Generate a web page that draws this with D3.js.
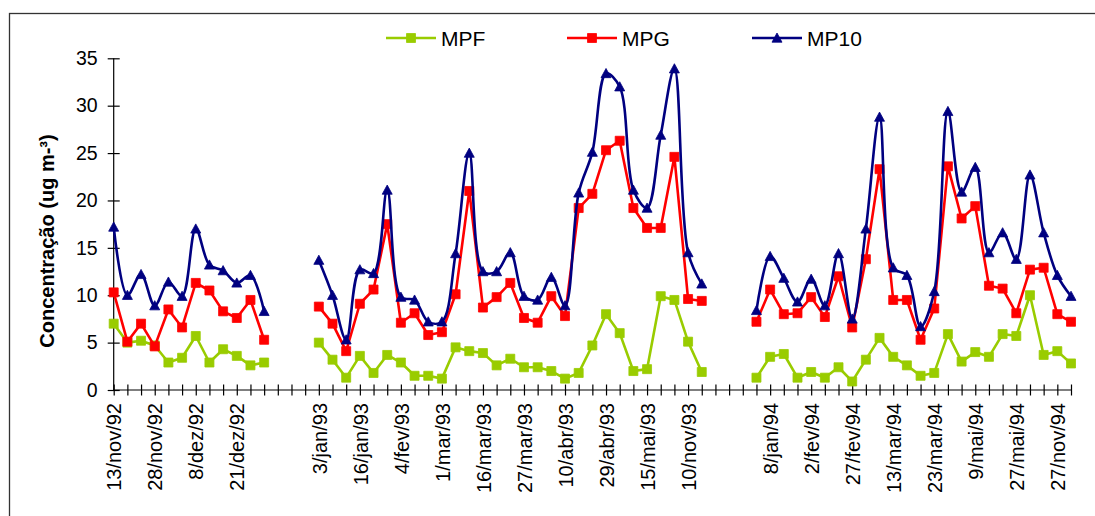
<!DOCTYPE html>
<html>
<head>
<meta charset="utf-8">
<script src="https://cdn.jsdelivr.net/npm/d3@7"></script>
<style>
  html, body { margin: 0; padding: 0; background: #fff; }
  svg { display: block; }
  text { font-family: "Liberation Sans", Arial, sans-serif; fill: #000; }
</style>
</head>
<body>
<svg id="chart" width="1095" height="516"></svg>
<script>
// ---- data (71 sampling days; null = gap) ----
const categories = d3.range(71);
const tickLabels = [
  "13/nov/92", "28/nov/92", "8/dez/92", "21/dez/92", "", "3/jan/93",
  "16/jan/93", "4/fev/93", "1/mar/93", "16/mar/93", "27/mar/93", "10/abr/93",
  "29/abr/93", "15/mai/93", "10/nov/93", "", "8/jan/94", "2/fev/94",
  "27/fev/94", "13/mar/94", "23/mar/94", "9/mai/94", "27/mai/94", "27/nov/94"
];
const yTicks = [0, 5, 10, 15, 20, 25, 30, 35];
const seriesNames = ["MPF", "MPG", "MP10"];

const mpf = [
  7.0, 5.0, 5.2, 4.7, 2.9, 3.4, 5.7, 2.9, 4.3, 3.6, 2.6, 2.9,
  null, null, null,
  5.0, 3.2, 1.3, 3.6, 1.8, 3.7, 2.9, 1.5, 1.5, 1.2, 4.5, 4.1, 3.9, 2.6, 3.3,
  2.4, 2.4, 2.0, 1.2, 1.8, 4.7, 8.0, 6.0, 2.0, 2.2, 9.9, 9.5, 5.1, 1.9,
  null, null, null,
  1.3, 3.5, 3.8, 1.3, 1.9, 1.3, 2.4, 0.9, 3.2, 5.5, 3.5, 2.6, 1.5, 1.8,
  5.9, 3.0, 4.0, 3.5, 5.9, 5.7, 10.0, 3.7, 4.1, 2.8
];
const mpg = [
  10.3, 5.1, 7.0, 4.6, 8.5, 6.6, 11.3, 10.5, 8.3, 7.6, 9.5, 5.3,
  null, null, null,
  8.8, 7.0, 4.1, 9.1, 10.6, 17.5, 7.1, 8.1, 5.8, 6.1, 10.1, 21.0, 8.7, 9.8, 11.3,
  7.6, 7.1, 9.9, 7.8, 19.2, 20.7, 25.3, 26.3, 19.2, 17.1, 17.1, 24.6, 9.6, 9.4,
  null, null, null,
  7.2, 10.6, 8.0, 8.1, 9.8, 7.7, 12.0, 6.6, 13.8, 23.3, 9.5, 9.5, 5.3, 8.6,
  23.6, 18.1, 19.4, 11.0, 10.7, 8.1, 12.7, 12.9, 8.0, 7.2
];
const mp10 = [
  17.2, 10.0, 12.2, 8.9, 11.4, 9.9, 17.0, 13.2, 12.6, 11.3, 12.1, 8.3,
  null, null, null,
  13.7, 10.0, 5.3, 12.7, 12.3, 21.1, 9.8, 9.5, 7.2, 7.2, 14.4, 25.0, 12.5, 12.5, 14.5,
  9.9, 9.5, 11.9, 8.9, 20.8, 25.1, 33.4, 32.0, 21.1, 19.2, 26.9, 33.9, 14.5, 11.2,
  null, null, null,
  8.4, 14.1, 11.8, 9.3, 11.7, 8.9, 14.4, 7.5, 17.0, 28.8, 12.9, 12.1, 6.7, 10.4,
  29.4, 20.9, 23.5, 14.5, 16.6, 13.8, 22.7, 16.6, 12.1, 9.9
];

// ---- chart ----
const svg = d3.select("#chart");

// outer frame
svg.append("rect").attr("x", 9.5).attr("y", 13.5).attr("width", 1200).attr("height", 700)
  .attr("fill", "none").attr("stroke", "#333").attr("stroke-width", 1.3);

const x = d3.scaleLinear().domain([0, categories.length - 1]).range([113.7, 1071]);
const y = d3.scaleLinear().domain([0, 35]).range([390, 58.3]);

// Y axis
const yAxis = svg.append("g").attr("transform", `translate(${x(0)},0)`)
  .call(d3.axisLeft(y).tickValues(yTicks).tickSize(6).tickPadding(10).tickFormat(d3.format("d")));
yAxis.select(".domain").attr("stroke", "#000").attr("stroke-width", 1.2).attr("d", `M0,${y(35)}V${y(0)}`);
yAxis.selectAll(".tick line").attr("x1", 6).attr("stroke", "#000").attr("stroke-width", 1.2);
yAxis.selectAll(".tick text").style("font-size", "19.5px").attr("font-family", "Liberation Sans, Arial, sans-serif");

// X axis
const labelMap = {};
tickLabels.forEach((l, i) => { labelMap[i * 3] = l; });
const xAxis = svg.append("g").attr("transform", `translate(0,${y(0)})`)
  .call(d3.axisBottom(x).tickValues(categories).tickSize(5.5).tickFormat(d => labelMap[d] || ""));
xAxis.select(".domain").attr("stroke", "#000").attr("stroke-width", 1.2).attr("d", `M${x(0)},0H${x(70)}`);
xAxis.selectAll(".tick line").attr("y1", -5.5).attr("stroke", "#000").attr("stroke-width", 1.2);
xAxis.selectAll(".tick text")
  .attr("transform", "rotate(-90)")
  .attr("x", -13).attr("y", 0).attr("dy", "0.36em")
  .attr("text-anchor", "end")
  .style("font-size", "20px").attr("font-family", "Liberation Sans, Arial, sans-serif");

// Y axis title
svg.append("text")
  .attr("transform", `translate(47,241) rotate(-90)`)
  .attr("text-anchor", "middle").attr("dy", "0.36em")
  .style("font-size", "20px").style("font-weight", "bold")
  .text("Concentração (ug m-³)");

const colors = { MPF: "#99CC00", MPG: "#FF0000", MP10: "#000080" };
const dataMap = { MPF: mpf, MPG: mpg, MP10: mp10 };
const curves = { MPF: d3.curveLinear, MPG: d3.curveLinear, MP10: d3.curveCatmullRom.alpha(0.5) };

const squarePath = "M-4.5,-4.5H4.5V4.5H-4.5Z";
const trianglePath = "M0,-5L5,4.2H-5Z";

seriesNames.forEach(name => {
  const vals = dataMap[name];
  const line = d3.line()
    .defined(d => d != null)
    .x((d, i) => x(categories[i]))
    .y(d => y(d))
    .curve(curves[name]);
  const g = svg.append("g");
  g.append("path").attr("d", line(vals)).attr("fill", "none")
    .attr("stroke", colors[name]).attr("stroke-width", 2.6).attr("stroke-linejoin", "round");
  const pts = vals.map((v, i) => ({ v, c: categories[i] })).filter(p => p.v != null);
  g.selectAll("path.m").data(pts).enter().append("path").attr("class", "m")
    .attr("transform", p => `translate(${x(p.c)},${y(p.v)})`)
    .attr("d", name === "MP10" ? trianglePath : squarePath)
    .attr("fill", colors[name]).attr("stroke", colors[name]).attr("stroke-width", 0.8);
});

// Legend
const legendX = [386, 567, 752];
seriesNames.forEach((name, i) => {
  const g = svg.append("g").attr("transform", `translate(${legendX[i]},38)`);
  g.append("line").attr("x1", 0).attr("x2", 50).attr("y1", 0).attr("y2", 0)
    .attr("stroke", colors[name]).attr("stroke-width", 2.6);
  g.append("path").attr("transform", "translate(25,0)")
    .attr("d", name === "MP10" ? trianglePath : squarePath)
    .attr("fill", colors[name]).attr("stroke", colors[name]).attr("stroke-width", 0.8);
  g.append("text").attr("x", 55).attr("y", 0).attr("dy", "0.36em")
    .style("font-size", "21px").text(name);
});
</script>
</body>
</html>
